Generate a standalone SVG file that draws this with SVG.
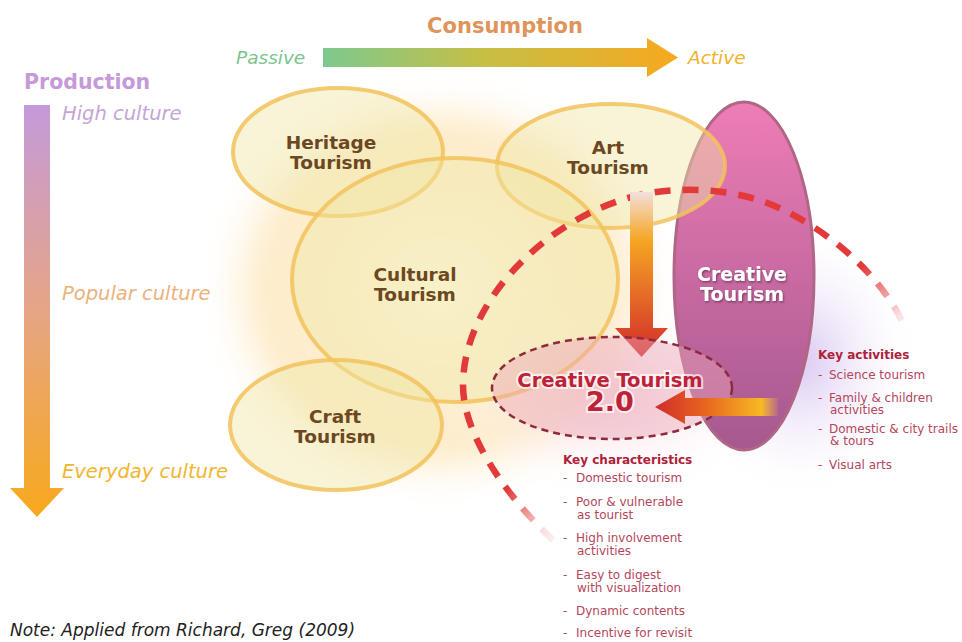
<svg xmlns="http://www.w3.org/2000/svg" width="962" height="642" viewBox="0 0 962 642">
<defs>
<style>
.bt{font-family:"DejaVu Sans","Liberation Sans",sans-serif;font-weight:bold;text-anchor:middle}
.it{font-family:"DejaVu Sans","Liberation Sans",sans-serif;font-style:italic}
.node{font-size:18.5px;fill:#6b4722}
.yel{fill:#f0e6a6;fill-opacity:0.45;stroke:#f2c25a;stroke-opacity:0.85;stroke-width:4}
.kt{font-family:"DejaVu Sans","Liberation Sans",sans-serif;font-weight:bold;font-size:12px;fill:#ae2238}
.ki{font-family:"DejaVu Sans","Liberation Sans",sans-serif;font-size:12px;fill:#b4465c}
</style>
<linearGradient id="gCons" x1="323" y1="0" x2="678" y2="0" gradientUnits="userSpaceOnUse">
<stop offset="0" stop-color="#7dc98f"/><stop offset="0.45" stop-color="#c6bf45"/><stop offset="1" stop-color="#f7a81f"/>
</linearGradient>
<linearGradient id="gProd" x1="0" y1="105" x2="0" y2="517" gradientUnits="userSpaceOnUse">
<stop offset="0" stop-color="#c49ada"/><stop offset="0.5" stop-color="#e6a585"/><stop offset="1" stop-color="#f8a91c"/>
</linearGradient>
<linearGradient id="gPink" x1="0" y1="102" x2="0" y2="450" gradientUnits="userSpaceOnUse">
<stop offset="0" stop-color="#ee7db6"/><stop offset="0.5" stop-color="#c96aa2"/><stop offset="1" stop-color="#a5598f"/>
</linearGradient>
<linearGradient id="gDown" x1="0" y1="190" x2="0" y2="357" gradientUnits="userSpaceOnUse">
<stop offset="0" stop-color="#f3e2e4"/><stop offset="0.3" stop-color="#f5a623"/><stop offset="1" stop-color="#d32a2b"/>
</linearGradient>
<linearGradient id="gLeft" x1="655" y1="0" x2="780" y2="0" gradientUnits="userSpaceOnUse">
<stop offset="0" stop-color="#cf2c2a"/><stop offset="0.4" stop-color="#e8651f"/><stop offset="0.85" stop-color="#f7b923"/><stop offset="1" stop-color="#f7c040" stop-opacity="0"/>
</linearGradient>
<radialGradient id="gGlowY" cx="0.5" cy="0.5" r="0.5">
<stop offset="0" stop-color="#fff8e0" stop-opacity="0.8"/><stop offset="0.75" stop-color="#fcdca0" stop-opacity="0.55"/><stop offset="1" stop-color="#fff" stop-opacity="0"/>
</radialGradient>
<radialGradient id="gGlowP" cx="0.5" cy="0.5" r="0.5">
<stop offset="0" stop-color="#cdb3ec" stop-opacity="0.8"/><stop offset="1" stop-color="#fff" stop-opacity="0"/>
</radialGradient>
<radialGradient id="gGlowR" cx="0.5" cy="0.5" r="0.5">
<stop offset="0" stop-color="#f6c9d3" stop-opacity="0.7"/><stop offset="1" stop-color="#fff" stop-opacity="0"/>
</radialGradient>
<radialGradient id="gFade" cx="0.5" cy="0.5" r="0.5">
<stop offset="0" stop-color="#000" stop-opacity="1"/><stop offset="0.35" stop-color="#000" stop-opacity="0.85"/><stop offset="1" stop-color="#000" stop-opacity="0"/>
</radialGradient>
<mask id="mFade" maskUnits="userSpaceOnUse" x="0" y="0" width="962" height="642">
<rect x="0" y="0" width="962" height="642" fill="#fff"/>
<circle cx="565" cy="552" r="85" fill="url(#gFade)"/>
<circle cx="915" cy="345" r="95" fill="url(#gFade)"/>
</mask>
<filter id="blur" x="-30%" y="-30%" width="160%" height="160%"><feGaussianBlur stdDeviation="12"/></filter>
<filter id="shadow" x="-20%" y="-20%" width="140%" height="140%"><feDropShadow dx="1" dy="1.5" stdDeviation="1" flood-color="#5a2a4a" flood-opacity="0.7"/></filter>
</defs>
<rect width="962" height="642" fill="#fff"/>

<g id="glows">
<ellipse cx="440" cy="290" rx="240" ry="215" fill="url(#gGlowY)" filter="url(#blur)"/>
<ellipse cx="800" cy="360" rx="120" ry="140" fill="url(#gGlowP)" filter="url(#blur)"/>
<ellipse cx="612" cy="400" rx="170" ry="100" fill="url(#gGlowR)" filter="url(#blur)"/>
</g>

<g id="consumption-axis">
<text x="505" y="33" class="bt" font-size="21" fill="#e0935a">Consumption</text>
<text x="236" y="64" class="it" font-size="18.5" fill="#7cc48e">Passive</text>
<path d="M323 48 H647 V38 L678 57.5 L647 77 V67 H323 Z" fill="url(#gCons)"/>
<text x="688" y="64" class="it" font-size="18.5" fill="#f0b22a">Active</text>
</g>

<g id="production-axis">
<text x="24" y="89" font-family="DejaVu Sans, Liberation Sans, sans-serif" font-weight="bold" font-size="20.5" fill="#c69ad8">Production</text>
<path d="M24 105 H50 V488 H64 L37 517 L10 488 H24 Z" fill="url(#gProd)"/>
<text x="62" y="120" class="it" font-size="19.5" fill="#c3a5d8">High culture</text>
<text x="62" y="300" class="it" font-size="19.5" fill="#ebb27c">Popular culture</text>
<text x="62" y="478" class="it" font-size="19.5" fill="#f1b62e">Everyday culture</text>
</g>

<g id="creative-tourism">
<ellipse cx="744" cy="276" rx="70" ry="174" fill="url(#gPink)" stroke="#b06684" stroke-width="3"/>
<text x="742" y="281" class="bt" font-size="19" fill="#fff" filter="url(#shadow)">Creative</text>
<text x="742" y="301" class="bt" font-size="19" fill="#fff" filter="url(#shadow)">Tourism</text>
</g>

<g id="heritage-tourism">
<ellipse cx="338" cy="152" rx="105" ry="64" class="yel"/>
<text x="331" y="149" class="bt node">Heritage</text>
<text x="331" y="169" class="bt node">Tourism</text>
</g>

<g id="art-tourism">
<ellipse cx="611" cy="166" rx="114" ry="62" class="yel"/>
<text x="608" y="154" class="bt node">Art</text>
<text x="608" y="174" class="bt node">Tourism</text>
</g>

<g id="cultural-tourism">
<ellipse cx="455" cy="280" rx="163" ry="122" class="yel"/>
<text x="415" y="281" class="bt node">Cultural</text>
<text x="415" y="301" class="bt node">Tourism</text>
</g>

<g id="craft-tourism">
<ellipse cx="336" cy="425" rx="106" ry="65" class="yel"/>
<text x="335" y="423" class="bt node">Craft</text>
<text x="335" y="443" class="bt node">Tourism</text>
</g>

<g id="connectors">
<path d="M553 540 C515 505 463 440 463 385 C463 300 550 215 640 195 C680 186 735 188 777 207 C830 231 880 275 903 323" fill="none" stroke="#e23a3a" stroke-width="6.5" stroke-dasharray="16 12" mask="url(#mFade)"/>
<path d="M630 192 H653 V328 H668 L641.5 357 L615 328 H630 Z" fill="url(#gDown)"/>
</g>

<g id="creative-tourism-2">
<ellipse cx="612" cy="388" rx="120" ry="51" fill="#eaa7b8" fill-opacity="0.45" stroke="#8e2a3e" stroke-width="2.5" stroke-dasharray="7 5"/>
<path d="M655 407 L685 390 V398 H778 V416 H685 V424 Z" fill="url(#gLeft)"/>
<text x="610" y="387" class="bt" font-size="19.5" fill="#be2238" stroke="#fff" stroke-width="4" stroke-opacity="0.7" paint-order="stroke">Creative Tourism</text>
<text x="610" y="411" class="bt" font-size="27" fill="#be2238" stroke="#fff" stroke-width="4" stroke-opacity="0.7" paint-order="stroke">2.0</text>
</g>

<g id="key-activities">
<text x="818" y="359" class="kt">Key activities</text>
<text x="818" y="379" class="ki">-</text><text x="829" y="379" class="ki">Science tourism</text>
<text x="818" y="402" class="ki">-</text><text x="829" y="402" class="ki">Family &amp; children</text>
<text x="830" y="414" class="ki">activities</text>
<text x="818" y="433" class="ki">-</text><text x="829" y="433" class="ki">Domestic &amp; city trails</text>
<text x="830" y="445" class="ki">&amp; tours</text>
<text x="818" y="469" class="ki">-</text><text x="829" y="469" class="ki">Visual arts</text>
</g>

<g id="key-characteristics">
<text x="563" y="464" class="kt">Key characteristics</text>
<text x="563" y="482" class="ki">-</text><text x="576" y="482" class="ki">Domestic tourism</text>
<text x="563" y="506" class="ki">-</text><text x="576" y="506" class="ki">Poor &amp; vulnerable</text>
<text x="577" y="519" class="ki">as tourist</text>
<text x="563" y="542" class="ki">-</text><text x="576" y="542" class="ki">High involvement</text>
<text x="577" y="555" class="ki">activities</text>
<text x="563" y="579" class="ki">-</text><text x="576" y="579" class="ki">Easy to digest</text>
<text x="577" y="592" class="ki">with visualization</text>
<text x="563" y="615" class="ki">-</text><text x="576" y="615" class="ki">Dynamic contents</text>
<text x="563" y="637" class="ki">-</text><text x="576" y="637" class="ki">Incentive for revisit</text>
</g>

<text x="10" y="636" class="it" font-size="17" fill="#222">Note: Applied from Richard, Greg (2009)</text>
</svg>
